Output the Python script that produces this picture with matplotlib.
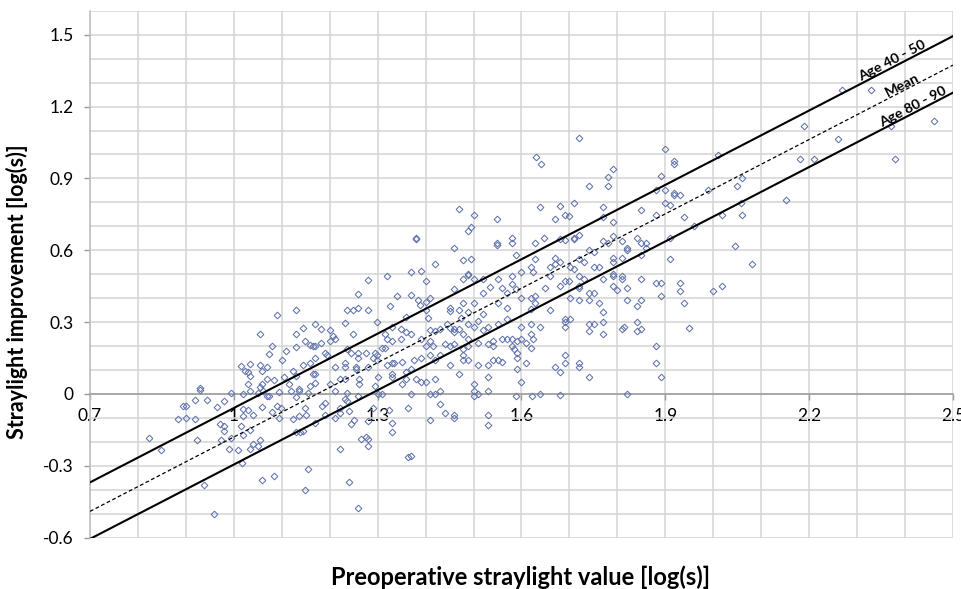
import matplotlib
matplotlib.use('Agg')
import matplotlib.pyplot as plt
import numpy as np
from matplotlib.ticker import FixedLocator, FixedFormatter

plt.rcParams['font.family'] = ['Lato', 'DejaVu Sans']

# ---------------- data ----------------
# preoperative straylight value [log(s)] / straylight improvement [log(s)]
pre_a = [2.269, 2.329, 2.190, 2.370, 2.460, 2.260, 2.181, 2.210, 2.380, 2.151, 2.081]
imp_a = [1.271, 1.271, 1.121, 1.121, 1.138, 1.063, 0.982, 0.982, 0.982, 0.811, 0.542]

pre_b = [1.719, 1.630, 1.641, 1.899, 1.919, 1.919, 2.010, 1.790, 1.780, 1.890,
         1.740, 1.780, 1.880, 1.900, 1.919, 1.919, 1.930, 1.990, 2.049, 2.060,
         1.639, 1.680, 1.710, 1.770, 1.900, 1.909, 1.669, 1.690, 1.700, 1.770,
         1.790, 1.850, 1.880, 1.939, 2.019, 2.060, 2.057, 1.648, 1.680, 1.710,
         1.719, 1.790, 1.840, 1.960, 1.909,
         1.470, 1.500, 1.549, 1.494, 1.489, 1.380, 1.580]
imp_b = [1.069, 0.990, 0.959, 1.024, 0.972, 0.960, 0.999, 0.940, 0.906, 0.909,
         0.868, 0.868, 0.850, 0.850, 0.838, 0.829, 0.829, 0.850, 0.868, 0.903,
         0.779, 0.783, 0.799, 0.779, 0.799, 0.789, 0.729, 0.749, 0.742, 0.738,
         0.718, 0.770, 0.749, 0.740, 0.749, 0.749, 0.796, 0.650, 0.646, 0.650,
         0.665, 0.660, 0.651, 0.701, 0.651,
         0.771, 0.746, 0.729, 0.697, 0.680, 0.653, 0.650]

pre_c = [1.629, 1.690, 1.710, 1.770, 1.780, 1.810, 1.820, 1.820, 1.850, 1.860,
         1.860, 1.850, 1.909, 2.046, 1.629, 1.669, 1.669, 1.680, 1.659, 1.701,
         1.710, 1.719, 1.730, 1.740, 1.751, 1.790, 1.790, 1.810, 1.751, 1.761,
         1.790, 1.790, 1.810, 1.810, 1.770, 1.850, 1.880, 1.890, 1.930, 1.930,
         1.999, 2.019, 1.890, 1.939, 1.850, 1.820, 1.840, 1.820, 1.800, 1.790,
         1.719, 1.719, 1.730, 1.719, 1.690, 1.699, 1.660, 1.624, 1.619, 1.650,
         1.680, 1.701, 1.740, 1.751, 1.740, 1.719, 1.761, 1.770, 1.770, 1.740,
         1.751, 1.740, 1.770, 1.810, 1.813, 1.840, 1.840, 1.850, 1.880, 1.880,
         1.890, 1.949, 1.690, 1.690, 1.690, 1.701, 1.660, 1.639, 1.629, 1.629,
         1.619, 1.619, 1.619, 1.619, 1.624, 1.619, 1.690, 1.690, 1.669, 1.680,
         1.719, 1.719, 1.740, 1.622, 1.639, 1.681, 1.820]
imp_c = [0.632, 0.643, 0.646, 0.639, 0.629, 0.639, 0.608, 0.600, 0.629, 0.629,
         0.608, 0.580, 0.562, 0.618, 0.562, 0.569, 0.541, 0.550, 0.532, 0.532,
         0.521, 0.562, 0.551, 0.600, 0.594, 0.569, 0.550, 0.569, 0.532, 0.532,
         0.501, 0.493, 0.493, 0.482, 0.482, 0.482, 0.462, 0.462, 0.462, 0.430,
         0.430, 0.451, 0.409, 0.381, 0.391, 0.391, 0.367, 0.441, 0.434, 0.451,
         0.451, 0.441, 0.482, 0.491, 0.470, 0.470, 0.491, 0.511, 0.530, 0.441,
         0.451, 0.401, 0.423, 0.423, 0.391, 0.391, 0.381, 0.342, 0.300, 0.291,
         0.291, 0.261, 0.252, 0.270, 0.281, 0.300, 0.261, 0.270, 0.200, 0.131,
         0.072, 0.277, 0.312, 0.300, 0.281, 0.312, 0.352, 0.281, 0.381, 0.409,
         0.402, 0.353, 0.291, 0.249, 0.228, 0.193, 0.161, 0.131, 0.111, 0.092,
         0.131, 0.111, 0.069, -0.010, 0.000, -0.006, 0.000]

pre_d = [1.380, 1.460, 1.548, 1.548, 1.580, 1.589, 1.479, 1.495, 1.419, 1.370,
         1.390, 1.319, 1.280, 1.400, 1.489, 1.489, 1.479, 1.500, 1.519, 1.550,
         1.580, 1.599, 1.580, 1.569, 1.559, 1.589, 1.599, 1.535, 1.519, 1.460,
         1.260, 1.340, 1.370, 1.385, 1.400, 1.410, 1.389, 1.400, 1.235, 1.249,
         1.260, 1.280, 1.325, 1.450, 1.450, 1.470, 1.479, 1.500, 1.489, 1.474,
         1.519, 1.550, 1.569, 1.569, 1.299, 1.359, 1.330, 1.405, 1.410, 1.419,
         1.430, 1.450, 1.460, 1.460, 1.444, 1.470, 1.479, 1.489, 1.489, 1.500,
         1.510, 1.519, 1.531, 1.550, 1.559, 1.569, 1.580, 1.590, 1.600, 1.600]
imp_d = [0.646, 0.608, 0.629, 0.622, 0.632, 0.580, 0.560, 0.564, 0.541, 0.511,
         0.515, 0.491, 0.475, 0.470, 0.502, 0.496, 0.479, 0.479, 0.482, 0.482,
         0.493, 0.509, 0.461, 0.420, 0.441, 0.437, 0.402, 0.447, 0.423, 0.440,
         0.416, 0.409, 0.412, 0.391, 0.385, 0.399, 0.372, 0.351, 0.352, 0.352,
         0.360, 0.351, 0.366, 0.360, 0.346, 0.351, 0.381, 0.381, 0.344, 0.319,
         0.333, 0.381, 0.360, 0.312, 0.300, 0.320, 0.281, 0.316, 0.268, 0.261,
         0.270, 0.277, 0.270, 0.257, 0.292, 0.273, 0.252, 0.231, 0.291, 0.280,
         0.305, 0.267, 0.281, 0.291, 0.231, 0.231, 0.231, 0.221, 0.281, 0.231]

pre_e = [1.181, 1.200, 1.231, 1.249, 1.315, 1.349, 1.360, 1.370, 1.319, 1.330,
         1.315, 1.309, 1.349, 1.390, 1.410, 1.400, 1.415, 1.440, 1.450, 1.460,
         1.479, 1.489, 1.510, 1.530, 1.540, 1.540, 1.580, 1.585, 1.590, 1.609,
         1.170, 1.181, 1.207, 1.210, 1.200, 1.235, 1.245, 1.260, 1.275, 1.295,
         1.260, 1.290, 1.190, 1.195, 1.170, 1.210, 1.231, 1.231, 1.255, 1.255,
         1.280, 1.299, 1.299, 1.320, 1.330, 1.335, 1.351, 1.360, 1.370, 1.375,
         1.390, 1.410, 1.419, 1.430, 1.450, 1.470, 1.479, 1.479, 1.489, 1.510,
         1.530, 1.530, 1.540, 1.550, 1.559, 1.590, 1.590, 1.609, 1.500, 1.419,
         1.400, 1.390, 1.380, 1.360, 1.351, 1.330, 1.330, 1.300, 1.295, 1.261,
         1.261, 1.231, 1.221, 1.200, 1.170, 1.170, 1.598]
imp_e = [0.271, 0.268, 0.296, 0.252, 0.252, 0.270, 0.257, 0.252, 0.228, 0.221,
         0.192, 0.192, 0.231, 0.228, 0.221, 0.200, 0.200, 0.210, 0.200, 0.210,
         0.186, 0.200, 0.211, 0.210, 0.221, 0.200, 0.200, 0.186, 0.172, 0.211,
         0.200, 0.214, 0.241, 0.229, 0.221, 0.189, 0.172, 0.172, 0.172, 0.172,
         0.151, 0.151, 0.172, 0.163, 0.151, 0.112, 0.131, 0.112, 0.112, 0.103,
         0.112, 0.161, 0.142, 0.119, 0.131, 0.131, 0.132, 0.092, 0.103, 0.142,
         0.151, 0.161, 0.142, 0.161, 0.121, 0.082, 0.161, 0.142, 0.142, 0.121,
         0.121, 0.072, 0.142, 0.142, 0.132, 0.151, 0.103, 0.131, 0.040, 0.061,
         0.051, 0.051, 0.061, 0.061, 0.041, 0.082, 0.072, 0.072, 0.033, 0.061,
         0.041, 0.061, 0.061, 0.041, 0.082, 0.044, 0.050]

pre_f = [1.210, 1.235, 1.260, 1.300, 1.310, 1.370, 1.410, 1.420, 1.430, 1.430,
         1.440, 1.460, 1.460, 1.500, 1.500, 1.510, 1.530, 1.530, 1.530, 1.589,
         1.184, 1.191, 1.190, 1.210, 1.221, 1.221, 1.231, 1.235, 1.240, 1.245,
         1.250, 1.280, 1.290, 1.324, 1.364, 1.330, 1.330, 1.410, 1.265, 1.275,
         1.280, 1.280, 1.221, 1.364, 1.370, 1.240, 1.260, 1.170]
imp_f = [0.011, 0.004, -0.010, 0.001, 0.001, 0.001, 0.001, 0.001, 0.011, -0.040,
         -0.079, -0.089, -0.100, 0.011, -0.007, 0.001, 0.011, -0.089, -0.131, -0.010,
         -0.049, -0.038, -0.086, -0.100, -0.059, -0.079, -0.020, -0.031, -0.072, -0.124,
         -0.107, -0.114, -0.059, -0.065, -0.059, -0.120, -0.159, -0.107, -0.188, -0.180,
         -0.188, -0.219, -0.230, -0.262, -0.258, -0.369, -0.476, -0.121]

pre_g = [1.089, 1.130, 1.169, 1.054, 1.130, 1.144, 1.149, 1.159, 1.166, 1.080,
         1.074, 1.109, 1.100, 1.130, 1.014, 1.034, 1.054, 1.069, 1.024, 1.029,
         1.034, 1.059, 1.124, 1.144, 1.159, 1.104, 1.069, 1.084, 1.130, 1.165,
         1.029, 1.059, 1.054, 1.114, 1.135, 1.159, 0.929]
imp_g = [0.331, 0.351, 0.291, 0.252, 0.252, 0.274, 0.221, 0.206, 0.200, 0.200,
         0.165, 0.181, 0.142, 0.196, 0.117, 0.126, 0.121, 0.111, 0.096, 0.092,
         0.075, 0.097, 0.096, 0.121, 0.131, 0.072, 0.061, 0.057, 0.075, 0.083,
         0.041, 0.041, 0.030, 0.040, 0.022, 0.033, 0.023]

pre_h = [0.929, 0.944, 0.919, 0.894, 0.900, 0.884, 0.900, 0.919, 0.964, 0.979,
         0.994, 1.020, 1.034, 1.050, 1.061, 1.095, 1.120, 1.135, 1.155, 1.059,
         1.069, 1.074, 1.080, 1.089, 1.099, 1.095, 1.124, 1.135, 1.150, 1.149,
         1.130, 1.020, 1.029, 1.039, 1.020, 1.015, 0.972, 0.979, 0.979, 1.020,
         1.034, 0.994, 0.974, 1.054, 1.039, 1.034, 1.050, 0.990, 1.009, 1.018,
         0.924, 0.824, 0.849, 1.130, 1.139, 1.144, 1.155, 1.149, 1.084, 1.059,
         0.937, 0.959]
imp_h = [0.018, -0.024, -0.024, -0.049, -0.049, -0.104, -0.100, -0.104, -0.054, -0.031,
         0.004, 0.001, 0.011, 0.004, 0.011, 0.007, 0.014, 0.014, 0.004, -0.054,
         -0.010, -0.010, -0.075, -0.049, -0.059, -0.100, -0.104, -0.093, -0.089, -0.059,
         -0.014, -0.063, -0.068, -0.089, -0.093, -0.132, -0.125, -0.135, -0.156, -0.170,
         -0.150, -0.184, -0.191, -0.194, -0.208, -0.228, -0.219, -0.230, -0.233, -0.288,
         -0.194, -0.184, -0.233, -0.157, -0.157, -0.153, -0.313, -0.400, -0.344, -0.358,
         -0.382, -0.499]

# fitted lines (slope, intercept) and their labels
line_labels = ['Age 40 - 50', 'Mean', 'Age 80 - 90']
line_slopes = [1.035, 1.035, 1.035]
line_intercepts = [-1.0935, -1.2145, -1.3295]
line_styles = ['-', '--', '-']
label_pos_x = [2.379, 2.40, 2.423]

x_ticks = [0.7, 1.0, 1.3, 1.6, 1.9, 2.2, 2.5]
x_tick_labels = ['0.7', '1', '1.3', '1.6', '1.9', '2.2', '2.5']
y_ticks = [-0.6, -0.3, 0.0, 0.3, 0.6, 0.9, 1.2, 1.5]
y_tick_labels = ['-0.6', '-0.3', '0', '0.3', '0.6', '0.9', '1.2', '1.5']

x_title = 'Preoperative straylight value [log(s)]'
y_title = 'Straylight improvement [log(s)]'

# ---------------- figure ----------------
pre = pre_a + pre_b + pre_c + pre_d + pre_e + pre_f + pre_g + pre_h
imp = imp_a + imp_b + imp_c + imp_d + imp_e + imp_f + imp_g + imp_h

fig = plt.figure(figsize=(9.61, 5.89), dpi=100)
ax = fig.add_axes([0.0937, 0.0871, 0.9916 - 0.0937, 0.9817 - 0.0871])
ax.set_xlim(0.7, 2.5)
ax.set_ylim(-0.6, 1.6)

ax.xaxis.set_major_locator(FixedLocator(x_ticks))
ax.xaxis.set_major_formatter(FixedFormatter(x_tick_labels))
ax.yaxis.set_major_locator(FixedLocator(y_ticks))
ax.yaxis.set_major_formatter(FixedFormatter(y_tick_labels))
ax.xaxis.set_minor_locator(FixedLocator(np.round(np.arange(0.7, 2.501, 0.1), 2)))
ax.yaxis.set_minor_locator(FixedLocator(np.round(np.arange(-0.6, 1.601, 0.1), 2)))

ax.grid(which='both', color='#d4d4d4', linewidth=1.1)
ax.set_axisbelow(True)

for s in ['top', 'right']:
    ax.spines[s].set_visible(False)
ax.spines['bottom'].set_position(('data', 0))
ax.spines['bottom'].set_color('#9a9a9a')
ax.spines['left'].set_color('#bdbdbd')
ax.spines['bottom'].set_linewidth(1.1)
ax.spines['left'].set_linewidth(1.1)

ax.tick_params(axis='both', which='major', labelsize=12.5, colors='#9a9a9a',
               labelcolor='black', length=4, width=1)
ax.tick_params(axis='x', which='major', pad=6)
ax.tick_params(axis='y', which='major', pad=8)
ax.tick_params(axis='both', which='minor', length=0)

ax.plot(pre, imp, linestyle='none', marker='D', markersize=3.4,
        markerfacecolor='none', markeredgecolor='#6174ad', markeredgewidth=0.75,
        zorder=3)

xs = np.array([0.7, 2.5])
for lab, m, b, ls, lx in zip(line_labels, line_slopes, line_intercepts,
                             line_styles, label_pos_x):
    ys = m * xs + b
    if ls == '--':
        ax.plot(xs, ys, color='black', linewidth=0.9, linestyle=(0, (3, 2)), zorder=4)
    else:
        ax.plot(xs, ys, color='black', linewidth=1.5, zorder=4)
    p = ax.transData.transform(np.column_stack([xs, ys]))
    ang = np.degrees(np.arctan2(p[1, 1] - p[0, 1], p[1, 0] - p[0, 0]))
    ax.text(lx, m * lx + b, lab, rotation=ang, rotation_mode='anchor',
            ha='center', va='bottom', fontsize=10.3, fontweight='bold', zorder=5)

fig.text(521 / 961, 1 - 577 / 589, x_title, ha='center', va='center',
         fontsize=17, fontweight='bold')
fig.text(17 / 961, 1 - 292 / 589, y_title, ha='center', va='center',
         rotation=90, fontsize=15.5, fontweight='bold')

fig.savefig('out.png', dpi=100)
